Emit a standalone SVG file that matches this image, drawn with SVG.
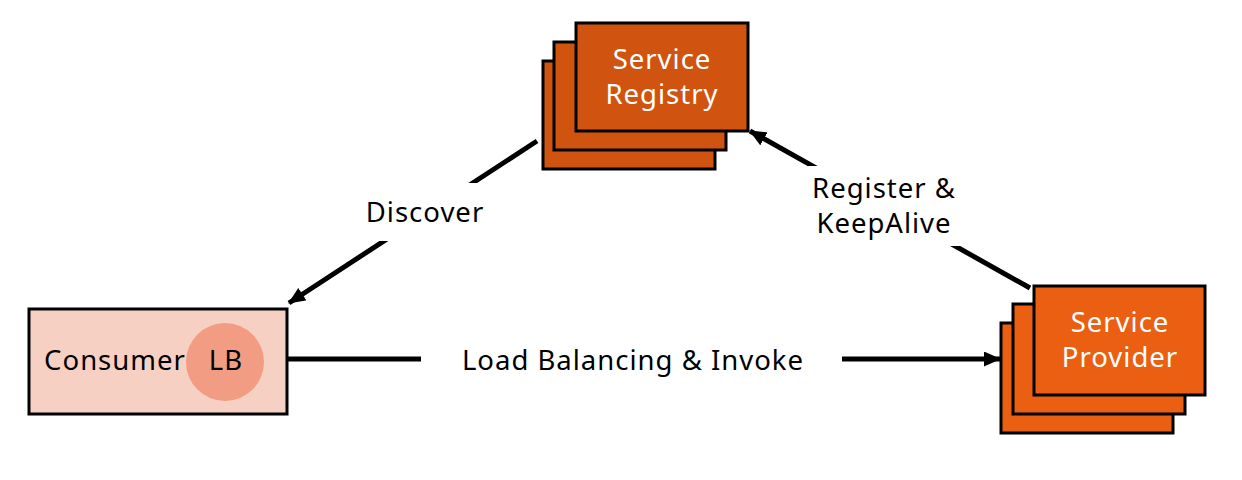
<svg xmlns="http://www.w3.org/2000/svg" width="1242" height="480" viewBox="0 0 1242 480">
<defs>
<marker id="arr" markerWidth="17" markerHeight="15" refX="16" refY="7.5" orient="auto" markerUnits="userSpaceOnUse">
<path d="M0,0 L17,7.5 L0,15 Z" fill="#000"/>
</marker>
<style>
.reg{fill:#D0540F;stroke:#000;stroke-width:3}
.prov{fill:#EA5F12;stroke:#000;stroke-width:3}
.wt{font-family:"Noto Sans","DejaVu Sans",sans-serif;font-size:27.5px;letter-spacing:1px;fill:#fff;text-anchor:middle}
.bt{font-family:"Noto Sans","DejaVu Sans",sans-serif;font-size:27.5px;letter-spacing:1px;fill:#000;text-anchor:middle}
.ln{stroke:#000;stroke-width:5;fill:none}
</style>
</defs>
<rect width="1242" height="480" fill="#fff"/>
<g id="connectors">
<line class="ln" x1="537" y1="141" x2="289" y2="303" marker-end="url(#arr)"/>
<rect x="350" y="183" width="150" height="58" fill="#fff"/>
<text class="bt" x="425" y="222">Discover</text>
<line class="ln" x1="1030" y1="288" x2="750" y2="131" marker-end="url(#arr)"/>
<rect x="790" y="166" width="180" height="80" fill="#fff"/>
<text class="bt" x="884" y="198">Register &amp;</text>
<text class="bt" x="884" y="233">KeepAlive</text>
<line class="ln" x1="288" y1="359" x2="1000" y2="359" marker-end="url(#arr)"/>
<rect x="421" y="330" width="421" height="60" fill="#fff"/>
<text class="bt" x="633" y="370">Load Balancing &amp; Invoke</text>
</g>
<g id="registry">
<rect class="reg" x="543" y="61" width="172" height="108"/>
<rect class="reg" x="554" y="42" width="172" height="108"/>
<rect class="reg" x="576" y="23" width="172" height="108"/>
<text class="wt" x="662" y="69">Service</text>
<text class="wt" x="662" y="104">Registry</text>
</g>
<g id="provider">
<rect class="prov" x="1001" y="323" width="172" height="110"/>
<rect class="prov" x="1013" y="304" width="172" height="110"/>
<rect class="prov" x="1034" y="286" width="171" height="109"/>
<text class="wt" x="1120" y="332">Service</text>
<text class="wt" x="1120" y="367">Provider</text>
</g>
<g id="consumer">
<rect x="29" y="309" width="258" height="105" fill="#F7D0C4" stroke="#000" stroke-width="3"/>
<circle cx="225" cy="362" r="39" fill="#F29C84"/>
<text class="bt" x="115" y="370">Consumer</text>
<text class="bt" x="226" y="370">LB</text>
</g>
</svg>
